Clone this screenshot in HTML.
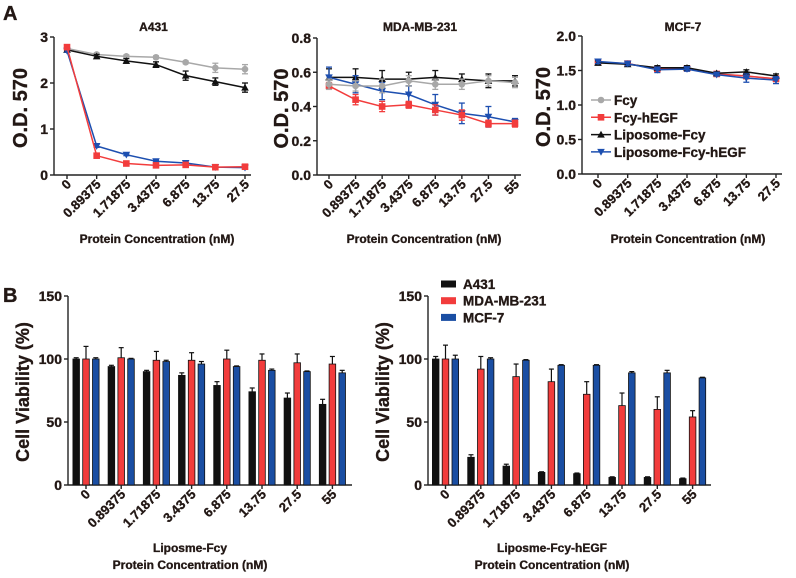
<!DOCTYPE html>
<html><head><meta charset="utf-8">
<style>
body{margin:0;background:#fff;}
svg{display:block;font-family:"Liberation Sans",Arial,sans-serif;font-weight:bold;}
svg text{stroke:#231815;stroke-width:0.35;}
</style></head>
<body>
<svg id="fig" width="796" height="578" viewBox="0 0 796 578">
<text x="3" y="20" font-size="20" fill="#231815">A</text>
<text x="3" y="302" font-size="20" fill="#231815">B</text>
</svg>
<script>
const NS="http://www.w3.org/2000/svg";
const svg=document.getElementById('fig');
const TXT='#231815';
function mk(tag,attrs,parent){const e=document.createElementNS(NS,tag);for(const k in attrs)e.setAttribute(k,attrs[k]);(parent||svg).appendChild(e);return e;}

// ---- data: line panels ----
const catsA431=["0","0.89375","1.71875","3.4375","6.875","13.75","27.5"];
const catsMDA=["0","0.89375","1.71875","3.4375","6.875","13.75","27.5","55"];
const catsMCF=["0","0.89375","1.71875","3.4375","6.875","13.75","27.5"];
const seriesNames=["Fcy","Fcy-hEGF","Liposome-Fcy","Liposome-Fcy-hEGF"];
const a431Fcy=[2.75,2.62,2.58,2.56,2.45,2.33,2.30];
const a431FcyErr=[0.03,0.03,0.03,0.03,0.03,0.10,0.10];
const a431FcyEGF=[2.78,0.42,0.25,0.21,0.22,0.17,0.18];
const a431FcyEGFErr=[0.03,0.03,0.02,0.02,0.02,0.02,0.02];
const a431Lip=[2.72,2.58,2.48,2.40,2.16,2.03,1.90];
const a431LipErr=[0.03,0.04,0.05,0.06,0.10,0.08,0.10];
const a431LipEGF=[2.70,0.63,0.44,0.30,0.26,0.17,0.16];
const a431LipEGFErr=[0.03,0.03,0.02,0.02,0.02,0.02,0.02];
const mdaFcy=[0.53,0.52,0.52,0.55,0.53,0.53,0.55,0.54];
const mdaFcyErr=[0.03,0.03,0.04,0.03,0.03,0.03,0.03,0.03];
const mdaFcyEGF=[0.52,0.44,0.40,0.41,0.38,0.35,0.30,0.30];
const mdaFcyEGFErr=[0.02,0.03,0.03,0.02,0.03,0.03,0.02,0.02];
const mdaLip=[0.57,0.57,0.56,0.56,0.57,0.56,0.55,0.55];
const mdaLipErr=[0.05,0.05,0.05,0.04,0.04,0.03,0.04,0.03];
const mdaLipEGF=[0.57,0.53,0.49,0.47,0.41,0.36,0.34,0.31];
const mdaLipEGFErr=[0.06,0.05,0.05,0.05,0.06,0.06,0.06,0.02];
const mcfFcy=[1.62,1.60,1.52,1.53,1.45,1.42,1.38];
const mcfFcyErr=[0.03,0.03,0.03,0.03,0.02,0.04,0.04];
const mcfFcyEGF=[1.62,1.60,1.52,1.53,1.45,1.42,1.38];
const mcfFcyEGFErr=[0.03,0.03,0.03,0.03,0.02,0.04,0.04];
const mcfLip=[1.61,1.59,1.54,1.54,1.46,1.48,1.42];
const mcfLipErr=[0.03,0.03,0.03,0.03,0.02,0.03,0.03];
const mcfLipEGF=[1.63,1.60,1.51,1.52,1.44,1.39,1.36];
const mcfLipEGFErr=[0.03,0.03,0.04,0.03,0.02,0.06,0.05];
const ticksA431=[0,1,2,3];
const ticksMDA=[0,0.2,0.4,0.6,0.8];
const ticksMCF=[0,0.5,1.0,1.5,2.0];

// ---- data: bar panels ----
const barCats=["0","0.89375","1.71875","3.4375","6.875","13.75","27.5","55"];
const barSeriesNames=["A431","MDA-MB-231","MCF-7"];
const b1A431=[100,94,90,87,79,74,69,64];
const b1A431Err=[1,1,1,2,3,3,4,4];
const b1MDA=[100,101,99,99,100,99,97,96];
const b1MDAErr=[10,8,7,6,7,5,7,6];
const b1MCF=[100,100,98,96,94,91,90,89];
const b1MCFErr=[1,0.5,1,2,0.5,1,0.5,2];
const b2A431=[100,22,15,10,9,6,6,5];
const b2A431Err=[2,2,1.5,0.5,0.5,0.5,0.5,0.5];
const b2MDA=[100,92,86,82,72,63,60,54];
const b2MDAErr=[11,10,10,10,10,10,10,5];
const b2MCF=[100,100,99,95,95,89,89,85];
const b2MCFErr=[3,1,0.5,0.5,0.5,1,2,0.5];
const ticksBar=[0,50,100,150];

const LC={gray:'#a8a8a8',red:'#f23c3c',black:'#111',blue:'#1d4fb0'};

function marker(g,type,x,y,c){
  let e;
  if(type==='circle')e=mk('circle',{cx:x,cy:y,r:3.3,fill:c},g);
  else if(type==='square')e=mk('rect',{x:x-3.3,y:y-3.3,width:6.6,height:6.6,fill:c},g);
  else if(type==='up')e=mk('polygon',{points:`${x},${y-3.8} ${x-3.8},${y+3} ${x+3.8},${y+3}`,fill:c},g);
  else e=mk('polygon',{points:`${x},${y+3.8} ${x-3.8},${y-3} ${x+3.8},${y-3}`,fill:c},g);
  
  
}

function axesY(g,ax,yTop,yBot,ticks,max,fmt){
  const sy=v=>yBot-(v/max)*(yBot-yTop);
  mk('line',{x1:ax,y1:yTop,x2:ax,y2:yBot,stroke:'#222','stroke-width':1.4},g);
  ticks.forEach(t=>{
    mk('line',{x1:ax-4,y1:sy(t),x2:ax,y2:sy(t),stroke:'#222','stroke-width':1.4},g);
    const tx=mk('text',{x:ax-6,y:sy(t)+5,'text-anchor':'end','font-size':14,fill:TXT},g);
    tx.textContent=fmt(t);
    
    
  });
  return sy;
}
function xLabels(g,xs,cats,yBot){
  cats.forEach((c,i)=>{
    const t=mk('text',{transform:`translate(${xs(i)+5},${yBot+10}) rotate(-45)`,'text-anchor':'end','font-size':13,fill:TXT},g);
    t.textContent=c;
    
    
  });
}
function yTitle(g,x,y,text,size){
  const t=mk('text',{transform:`translate(${x},${y}) rotate(-90)`,'text-anchor':'middle','font-size':size,fill:TXT,'stroke-width':0.7},g);
  t.textContent=text;
  
  
}
function textAt(g,x,y,s,size,name){
  const t=mk('text',{x:x,y:y,'text-anchor':'middle','font-size':size,fill:TXT},g);
  t.textContent=s;
  
  
}

function linePanel(o){
  const g=mk('g',{});
  
  
  const sy=axesY(g,o.ax,o.yTop,o.yBot,o.ticks,o.max,o.fmt);
  const n=o.cats.length;
  const xs=i=>o.x0+i*(o.x1-o.x0)/(n-1);
  mk('line',{x1:o.ax,y1:o.yBot,x2:o.x1+6,y2:o.yBot,stroke:'#222','stroke-width':1.4},g);
  o.cats.forEach((c,i)=>mk('line',{x1:xs(i),y1:o.yBot,x2:xs(i),y2:o.yBot+4,stroke:'#222','stroke-width':1.4},g));
  xLabels(g,xs,o.cats,o.yBot);
  o.series.forEach(s=>{
    const sg=mk('g',{},g);
    
    
    s.v.forEach((v,i)=>{
      const e=s.e[i];
      mk('line',{x1:xs(i),y1:sy(v+e),x2:xs(i),y2:sy(v-e),stroke:s.c,'stroke-width':1.3},sg);
      mk('line',{x1:xs(i)-3,y1:sy(v+e),x2:xs(i)+3,y2:sy(v+e),stroke:s.c,'stroke-width':1.3},sg);
      mk('line',{x1:xs(i)-3,y1:sy(v-e),x2:xs(i)+3,y2:sy(v-e),stroke:s.c,'stroke-width':1.3},sg);
    });
    mk('polyline',{points:s.v.map((v,i)=>xs(i)+','+sy(v)).join(' '),fill:'none',stroke:s.c,'stroke-width':1.5},sg);
    s.v.forEach((v,i)=>marker(sg,s.m,xs(i),sy(v),s.c));
  });
  textAt(g,(o.ax+o.x1)/2+4,31,o.title,12,'chart-title');
  textAt(g,o.xlab,243,'Protein Concentration (nM)',12,'x-axis-title');
  yTitle(g,o.ylx,(o.yTop+o.yBot)/2+2,'O.D. 570',20);
}

linePanel({name:'chart-a431',ax:54,yTop:37,yBot:175,ticks:ticksA431,max:3,fmt:t=>String(t),cats:catsA431,x0:67,x1:245,
 title:'A431',xlab:157,ylx:27,
 series:[{key:'fcy',v:a431Fcy,e:a431FcyErr,c:LC.gray,m:'circle'},{key:'liposome-fcy',v:a431Lip,e:a431LipErr,c:LC.black,m:'up'},
 {key:'liposome-fcy-hegf',v:a431LipEGF,e:a431LipEGFErr,c:LC.blue,m:'down'},{key:'fcy-hegf',v:a431FcyEGF,e:a431FcyEGFErr,c:LC.red,m:'square'}]});
linePanel({name:'chart-mda-mb-231',ax:317,yTop:38,yBot:175,ticks:ticksMDA,max:0.8,fmt:t=>t.toFixed(1),cats:catsMDA,x0:329,x1:515,
 title:'MDA-MB-231',xlab:424,ylx:288,
 series:[{key:'liposome-fcy',v:mdaLip,e:mdaLipErr,c:LC.black,m:'up'},{key:'liposome-fcy-hegf',v:mdaLipEGF,e:mdaLipEGFErr,c:LC.blue,m:'down'},
 {key:'fcy-hegf',v:mdaFcyEGF,e:mdaFcyEGFErr,c:LC.red,m:'square'},{key:'fcy',v:mdaFcy,e:mdaFcyErr,c:LC.gray,m:'circle'}]});
linePanel({name:'chart-mcf-7',ax:582,yTop:36,yBot:174,ticks:ticksMCF,max:2,fmt:t=>t.toFixed(1),cats:catsMCF,x0:598,x1:776,
 title:'MCF-7',xlab:688,ylx:550,
 series:[{key:'fcy',v:mcfFcy,e:mcfFcyErr,c:LC.gray,m:'circle'},{key:'fcy-hegf',v:mcfFcyEGF,e:mcfFcyEGFErr,c:LC.red,m:'square'},
 {key:'liposome-fcy',v:mcfLip,e:mcfLipErr,c:LC.black,m:'up'},{key:'liposome-fcy-hegf',v:mcfLipEGF,e:mcfLipEGFErr,c:LC.blue,m:'down'}]});

// line legend
(function(){
  const g=mk('g',{});
  
  
  const cs=[LC.gray,LC.red,LC.black,LC.blue],ms=['circle','square','up','down'];
  seriesNames.forEach((n,i)=>{
    const y=100+i*17.3;
    const eg=mk('g',{},g);
    
    
    mk('line',{x1:591,y1:y,x2:611,y2:y,stroke:cs[i],'stroke-width':1.5},eg);
    marker(eg,ms[i],601,y,cs[i]);
    const t=mk('text',{x:614,y:y+5,'font-size':13.5,fill:TXT},eg);
    t.textContent=n;
  });
})();

function barPanel(o){
  const g=mk('g',{});
  
  
  const sy=axesY(g,o.ax,o.yTop,o.yBot,ticksBar,150,t=>String(t));
  mk('line',{x1:o.ax,y1:o.yBot,x2:o.x1,y2:o.yBot,stroke:'#222','stroke-width':1.4},g);
  const gc=i=>o.c0+i*o.step;
  const cols=['#111','#f23c3c','#1a4ea3'];
  const keys=['a431','mda-mb-231','mcf-7'];
  o.series.forEach((s,si)=>{
    s.v.forEach((v,i)=>{
      const cx=gc(i)+(si-1)*9.8;
      const e=s.e[i];
      mk('line',{x1:cx,y1:sy(v),x2:cx,y2:sy(v+e),stroke:'#111','stroke-width':1.2},g);
      mk('line',{x1:cx-2.5,y1:sy(v+e),x2:cx+2.5,y2:sy(v+e),stroke:'#111','stroke-width':1.2},g);
      const r=mk('rect',{x:cx-3.3,y:sy(v),width:6.6,height:o.yBot-sy(v),fill:cols[si],stroke:'#111','stroke-width':0.8},g);
      
      
    });
  });
  barCats.forEach((c,i)=>mk('line',{x1:gc(i),y1:o.yBot,x2:gc(i),y2:o.yBot+4,stroke:'#222','stroke-width':1.4},g));
  xLabels(g,gc,barCats,o.yBot);
  textAt(g,o.xlab,552,o.sub,12,'x-axis-subtitle');
  textAt(g,o.xlab,569,'Protein Concentration (nM)',12,'x-axis-title');
  yTitle(g,o.ylx,392,'Cell Viability (%)',18);
}
barPanel({name:'chart-liposome-fcy',ax:68,yTop:296,yBot:485,x1:352,c0:86,step:35.2,xlab:190,ylx:29,sub:'Liposme-Fcy',
 series:[{v:b1A431,e:b1A431Err},{v:b1MDA,e:b1MDAErr},{v:b1MCF,e:b1MCFErr}]});
barPanel({name:'chart-liposome-fcy-hegf',ax:428,yTop:296,yBot:485,x1:711,c0:445.5,step:35.3,xlab:552,ylx:389,sub:'Liposme-Fcy-hEGF',
 series:[{v:b2A431,e:b2A431Err},{v:b2MDA,e:b2MDAErr},{v:b2MCF,e:b2MCFErr}]});

// bar legend
(function(){
  const g=mk('g',{});
  
  
  const cols=['#111','#f23c3c','#1a4ea3'];
  barSeriesNames.forEach((n,i)=>{
    const y=284+i*16.7;
    const eg=mk('g',{},g);
    
    
    mk('rect',{x:441,y:y-3.5,width:15,height:7,fill:cols[i]},eg);
    const t=mk('text',{x:463,y:y+5,'font-size':13.5,fill:TXT},eg);
    t.textContent=n;
  });
})();
</script>
</body></html>
